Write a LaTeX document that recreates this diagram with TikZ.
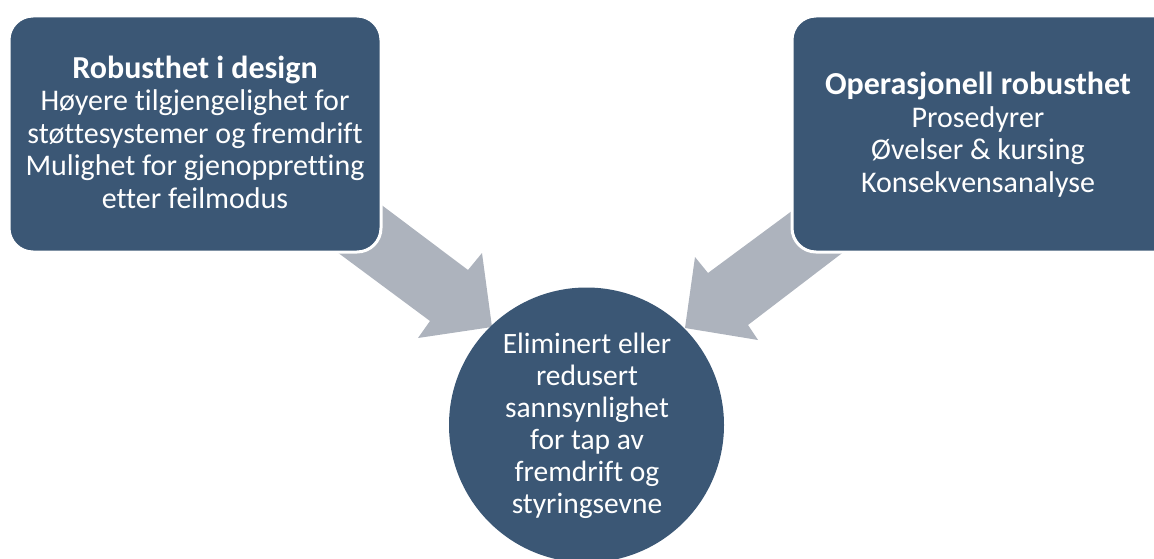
\documentclass[tikz,border=0pt]{standalone}
\usepackage{fontspec}
\setmainfont{Carlito}[Ligatures={NoCommon}]
\definecolor{boxblue}{RGB}{59,87,117}
\definecolor{arrowgray}{RGB}{173,179,189}
\begin{document}
\begin{tikzpicture}[x=1pt,y=-1pt,
  card/.style={draw=white,line width=3pt,fill=boxblue,rounded corners=24pt},
  bigarrow/.style={fill=arrowgray,draw=none},
  label/.style={text=white,align=center,inner sep=0pt,anchor=base,font=\fontsize{30}{32.4}\selectfont}]
\useasboundingbox (0,0) rectangle (1154,559);
\begin{scope}
\clip (0,0) rectangle (1154,559);
% arrows
\fill[bigarrow] (347,179) -- (468,270) -- (482,253) -- (492,327) -- (418,338) -- (430,321) -- (306,229) -- cycle;
\fill[bigarrow] (827,185) -- (708,273) -- (695,257) -- (685,328) -- (758,340) -- (748,325) -- (875,228) -- cycle;
% boxes
\draw[card] (9,16) rectangle (381,252);
\draw[card] (792,16) rectangle (1180,252);
\node[circle,fill=boxblue,minimum size=275pt,inner sep=0pt] (goal) at (586.5,425) {};
\end{scope}
% anchor=base of a multi-line node is the baseline of its last line
\node[label] (design) at (195,208) {{\fontsize{32}{32.4}\selectfont\bfseries Robusthet i design}\\Høyere tilgjengelighet for\\støttesystemer og fremdrift\\Mulighet for gjenoppretting\\etter feilmodus};
\node[label] (ops) at (978,192) {{\fontsize{32}{32.4}\selectfont\bfseries Operasjonell robusthet}\\Prosedyrer\\Øvelser \& kursing\\Konsekvensanalyse};
\node[label,font=\fontsize{29.5}{32}\selectfont] (goaltext) at (587,513) {Eliminert eller\\redusert\\sannsynlighet\\for tap av\\fremdrift og\\styringsevne};
\end{tikzpicture}
\end{document}
